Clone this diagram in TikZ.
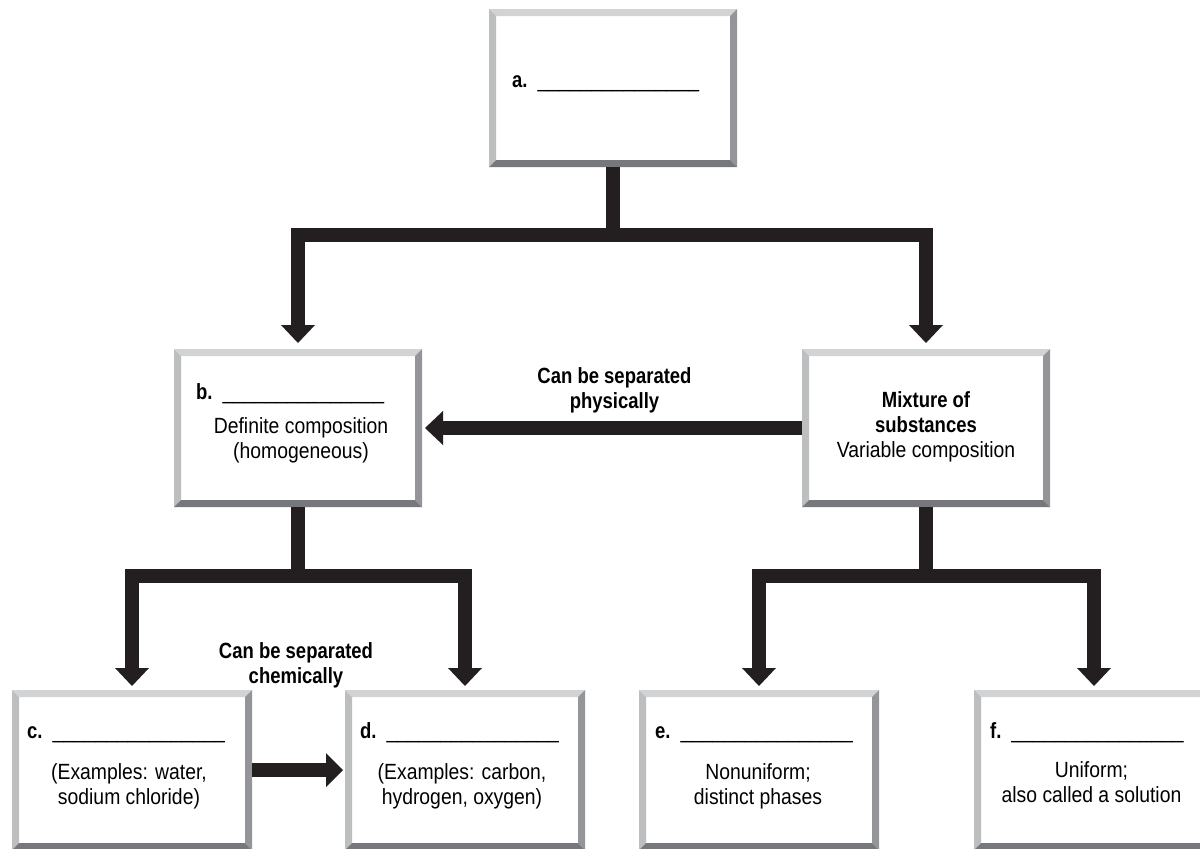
\documentclass[tikz,border=0pt]{standalone}
\usepackage{fontspec}
\setmainfont{Liberation Sans}[FakeStretch=0.88]
\newfontfamily\bfam{Liberation Sans}[FakeStretch=0.84]
\usetikzlibrary{arrows.meta}
\definecolor{ink}{HTML}{231F20}
\definecolor{bvtop}{HTML}{D1D3D4}
\definecolor{bvleft}{HTML}{BCBEC0}
\definecolor{bvright}{HTML}{939598}
\definecolor{bvbot}{HTML}{77787B}
\newcommand\BL[1]{{\bfam\bfseries #1}}
\newcommand\blankA{\_\_\_\_\_\_\_\_\_\_\_\_\_\_\_}
\newcommand\blankB{\_\_\_\_\_\_\_\_\_\_\_\_\_\_\_\_}
\newcommand\bevel[1]{%
  \fill[bvtop] (#1.north west) -- (#1.north east) -- ([shift={(-7,7)}]#1.north east) -- ([shift={(7,7)}]#1.north west) -- cycle;
  \fill[bvleft] (#1.north west) -- ([shift={(7,7)}]#1.north west) -- ([shift={(7,-7)}]#1.south west) -- (#1.south west) -- cycle;
  \fill[bvright] (#1.north east) -- (#1.south east) -- ([shift={(-7,-7)}]#1.south east) -- ([shift={(-7,7)}]#1.north east) -- cycle;
  \fill[bvbot] (#1.south west) -- ([shift={(7,-7)}]#1.south west) -- ([shift={(-7,-7)}]#1.south east) -- (#1.south east) -- cycle;}
\begin{document}
\begin{tikzpicture}[x=1pt, y=-1pt,
  bx/.style={rectangle, fill=white, inner sep=0, outer sep=0, minimum width=248, minimum height=158},
  bxs/.style={bx, minimum width=240, minimum height=160},
  conn/.style={draw=ink, line width=14.5pt, line join=miter, -{Triangle[width=34pt,length=18pt,line width=0pt]}},
  lbl/.style={anchor=base west, inner sep=0, font=\fontsize{22}{25}\selectfont, text=black},
  txt/.style={anchor=north, align=center, inner sep=0, font=\fontsize{22}{25}\selectfont, text=black}]
\useasboundingbox (0,0) rectangle (1200,849);
\clip (0,0) rectangle (1200,849);
\fill[white] (0,0) rectangle (1200,849);
% boxes
\node[bx] (a) at (613,88) {};
\node[bx] (b) at (298,428) {};
\node[bx] (mix) at (926,428) {};
\node[bxs] (c) at (132,770) {};
\node[bxs] (d) at (465,770) {};
\node[bxs] (e) at (759,770) {};
\node[bxs] (f) at (1094,770) {};
\bevel{a}\bevel{b}\bevel{mix}\bevel{c}\bevel{d}\bevel{e}\bevel{f}
% junctions
\coordinate (j1) at (613,235);
\coordinate (j2) at (298,576);
\coordinate (j3) at (926,576);
% connectors
\draw[conn] (a.south) -- (j1) -| ([yshift=6pt]b.north);
\draw[conn] (j1) -| ([yshift=6pt]mix.north);
\draw[conn] (b.south) -- (j2) -| ([yshift=4pt]c.north);
\draw[conn] (j2) -| ([yshift=4pt]d.north);
\draw[conn] (mix.south) -- (j3) -| ([yshift=4pt]e.north);
\draw[conn] (j3) -| ([yshift=4pt]f.north);
\draw[conn] (mix.west) -- ([xshift=3pt]b.east);
\draw[conn, -{Triangle[width=34pt,length=17pt,line width=0pt]}] (c.east) -- ([xshift=-2pt]d.west);
% labels
\node[lbl] (la) at (512,87) {\BL{a.}\hspace{10pt}\blankA};
\node[lbl] (lb) at (196,399) {\BL{b.}\hspace{10pt}\blankA};
\node[lbl] (lc) at (27,738) {\BL{c.}\hspace{10pt}\blankB};
\node[lbl] (ld) at (360,738) {\BL{d.}\hspace{10pt}\blankB};
\node[lbl] (le) at (655,738) {\BL{e.}\hspace{10pt}\blankB};
\node[lbl] (lf) at (990,738) {\BL{f.}\hspace{10pt}\blankB};
% texts
\node[txt] (tb) at (301,415.5) {\strut Definite composition\\(homogeneous)};
\node[txt] (tm) at (926,389.5) {\strut\BL{Mixture of}\\\BL{substances}\\Variable composition};
\node[txt] (tp) at (614.5,365.5) {\strut\BL{Can be separated}\\\BL{physically}};
\node[txt] (tch) at (296,640.5) {\strut\BL{Can be separated}\\\BL{chemically}};
\node[txt] (tc) at (129,761.5) {\strut(Examples: water,\\sodium chloride)};
\node[txt] (td) at (462,761.5) {\strut(Examples: carbon,\\hydrogen, oxygen)};
\node[txt] (te) at (758,761.5) {\strut Nonuniform;\\distinct phases};
\node[txt] (tf) at (1091.5,759.5) {\strut Uniform;\\also called a solution};
\end{tikzpicture}
\end{document}
